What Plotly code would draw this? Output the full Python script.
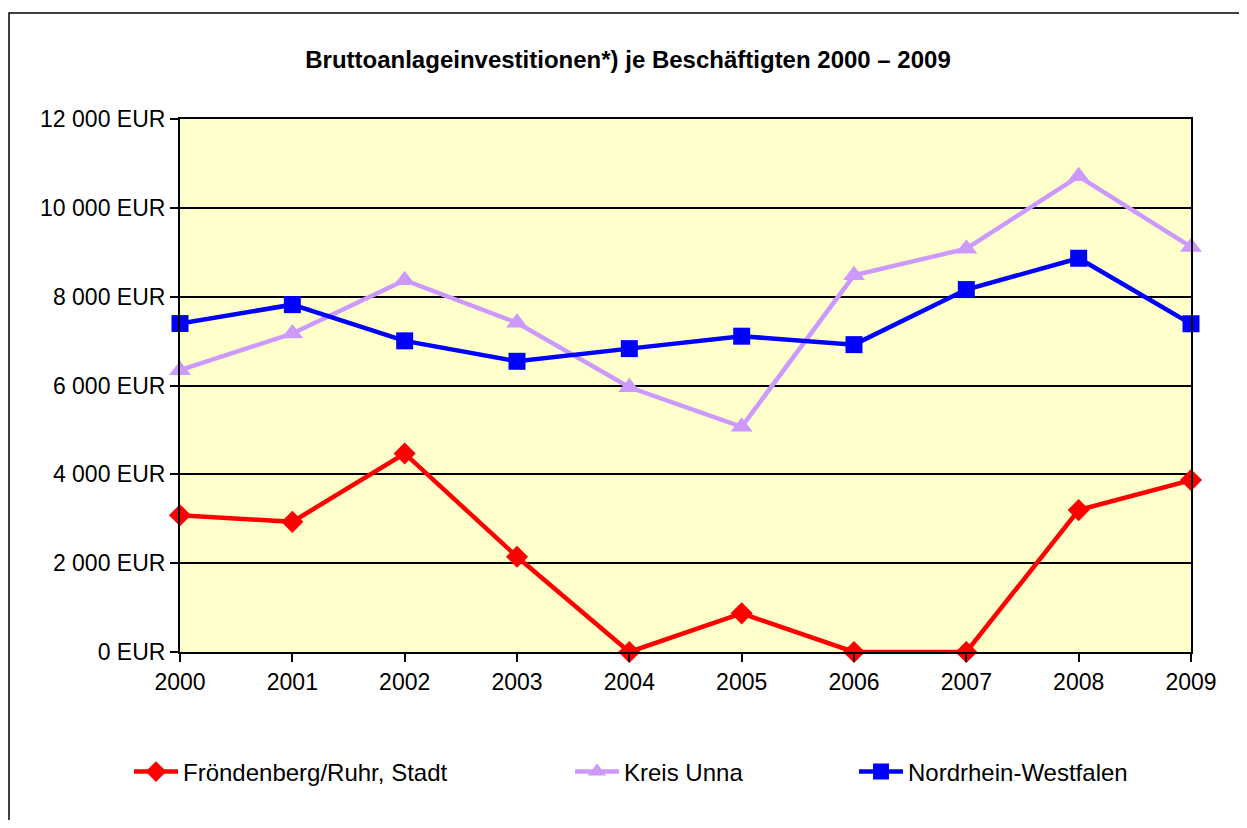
import plotly.graph_objects as go

years = [2000, 2001, 2002, 2003, 2004, 2005, 2006, 2007, 2008, 2009]
froendenberg = [3080, 2930, 4470, 2145, 0, 870, 0, 0, 3195, 3870]
kreis_unna = [6345, 7170, 8370, 7410, 5960, 5070, 8480, 9080, 10710, 9120]
nrw = [7395, 7820, 7005, 6545, 6830, 7110, 6920, 8160, 8865, 7390]

y_tickvals = [0, 2000, 4000, 6000, 8000, 10000, 12000]
y_ticktext = ["0 EUR", "2 000 EUR", "4 000 EUR", "6 000 EUR", "8 000 EUR", "10 000 EUR", "12 000 EUR"]

title = "Bruttoanlageinvestitionen*) je Beschäftigten 2000 – 2009"
names = ["Fröndenberg/Ruhr, Stadt", "Kreis Unna", "Nordrhein-Westfalen"]

FONT = "Liberation Sans, Arial, sans-serif"
# the page body has an 8px margin, so figure coordinates = page coordinates - 8
W, H = 1231, 812
L, T = 172, 111
R = W - 1183
B = H - 644

fig = go.Figure()
fig.add_trace(go.Scatter(x=years, y=froendenberg, name=names[0], mode="lines+markers",
                         line=dict(color="#FF0000", width=4.5),
                         marker=dict(symbol="diamond", size=17, color="#FF0000"),
                         cliponaxis=False, legend="legend"))
fig.add_trace(go.Scatter(x=years, y=kreis_unna, name=names[1], mode="lines+markers",
                         line=dict(color="#CC99FF", width=4.5),
                         marker=dict(symbol="triangle-up", size=19, color="#CC99FF"),
                         cliponaxis=False, legend="legend2"))
fig.add_trace(go.Scatter(x=years, y=nrw, name=names[2], mode="lines+markers",
                         line=dict(color="#0000FF", width=4.5),
                         marker=dict(symbol="square", size=17, color="#0000FF"),
                         cliponaxis=False, legend="legend3"))

pw = W - L - R
ph = H - T - B
fig.add_shape(type="rect", xref="paper", yref="paper",
              x0=(1 - L) / pw, x1=(W + 100 - L) / pw,
              y0=(ph - (H + 100 - T)) / ph, y1=(ph - (5 - T)) / ph,
              line=dict(color="black", width=1.5), layer="below")

leg_common = dict(orientation="h", xref="container", yref="container", yanchor="middle",
                  itemwidth=44,
                  font=dict(family=FONT, size=24, color="black"), bgcolor="rgba(0,0,0,0)")
ly = 1 - 764 / H

fig.update_layout(
    width=W, height=H,
    margin=dict(l=L, r=R, t=T, b=B),
    paper_bgcolor="white",
    plot_bgcolor="#FFFFCC",
    font=dict(family=FONT, size=23, color="black"),
    title=dict(text="<b>" + title + "</b>", x=620 / W, xref="container", xanchor="center",
               y=1 - 52 / H, yref="container", yanchor="middle",
               font=dict(family=FONT, size=24, color="black")),
    xaxis=dict(range=[2000, 2009], tickvals=years, ticktext=[str(y) for y in years],
               showgrid=False, zeroline=False, showline=True, linecolor="black", linewidth=2,
               mirror=True, ticks="outside", ticklen=8, tickwidth=2, tickcolor="black",
               tickfont=dict(family=FONT, size=23)),
    yaxis=dict(range=[0, 12000], tickvals=y_tickvals, ticktext=y_ticktext,
               showgrid=True, gridcolor="black", gridwidth=2, zeroline=False,
               showline=True, linecolor="black", linewidth=2, mirror=True,
               ticks="outside", ticklen=8, tickwidth=2, tickcolor="black",
               tickfont=dict(family=FONT, size=23)),
    legend=dict(x=121 / W, y=ly, **leg_common),
    legend2=dict(x=562 / W, y=ly, **leg_common),
    legend3=dict(x=846 / W, y=ly, **leg_common),
    showlegend=True,
)

fig.write_html("out.html")
